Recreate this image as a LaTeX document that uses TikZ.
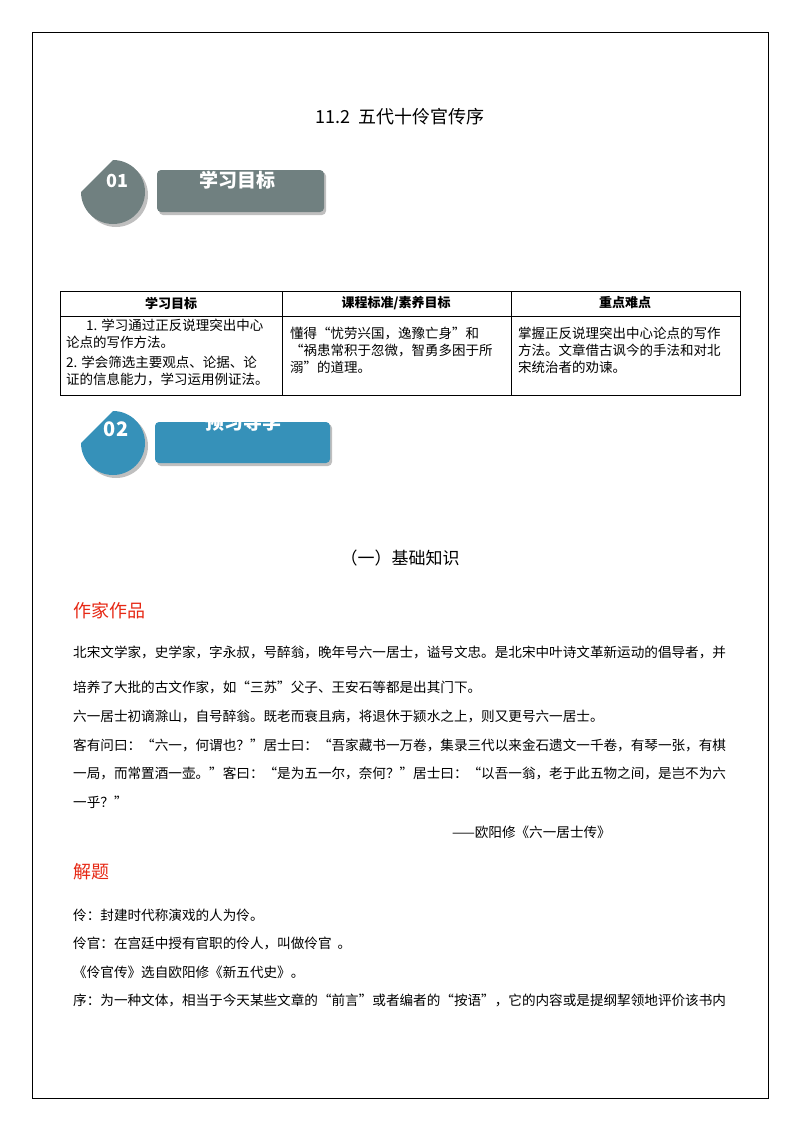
\documentclass[tikz,border=0pt]{standalone}
\usepackage{fontspec}
\setmainfont{Noto Sans CJK SC}
\begin{document}
\begin{tikzpicture}[x=1pt,y=-1pt,
  body/.style={anchor=west,inner sep=0pt,font=\fontsize{13.6}{15}\selectfont},
  cell/.style={anchor=north west,inner sep=0pt,align=left,font=\fontsize{13.5}{17}\selectfont},
  head/.style={inner sep=0pt,font=\fontsize{13}{14}\selectfont\bfseries},
  red/.style={anchor=west,inner sep=0pt,text={rgb,255:red,230;green,40;blue,20},font=\fontsize{18}{20}\selectfont}]
\useasboundingbox (0,0) rectangle (800,1132);
\draw[line width=0.8pt] (32,32) rectangle (768,1098);
\node[inner sep=0pt,font=\fontsize{18}{20}\selectfont] (title) at (400,117) {11.2\ \ 五代十伶官传序};
\definecolor{gr}{RGB}{112,128,128}
\definecolor{bl}{RGB}{54,145,185}
% badge 01
\fill[gray!50] (116,163) arc[start angle=-90,end angle=180,radius=32] -- cycle;
\fill[gr] (113,160) arc[start angle=-90,end angle=180,radius=32] -- cycle;
\node[text=white,font=\fontsize{18}{20}\selectfont\bfseries] (n1) at (117,181) {01};
\fill[gray!50,rounded corners=4] (159,172) rectangle (326,215);
\fill[gr,rounded corners=4] (157,170) rectangle (324,212);
\node[text=white,font=\fontsize{19}{20}\selectfont\bfseries] (b1) at (237,180) {学习目标};
% table
\draw[line width=0.6pt] (60,291) rectangle (740,395);
\draw[line width=0.6pt] (60,316) -- (740,316);
\draw[line width=0.6pt] (282,291) -- (282,395);
\draw[line width=0.6pt] (511,291) -- (511,395);
\node[head] (h1) at (171,303) {学习目标};
\node[head] (h2) at (396,303) {课程标准/素养目标};
\node[head] (h3) at (625,303) {重点难点};
\node[cell] (c1) at (66,319) {\hspace*{20pt}1. 学习通过正反说理突出中心\\论点的写作方法。};
\node[cell] (c1b) at (66,356) {2. 学会筛选主要观点、论据、论\\证的信息能力，学习运用例证法。};
\node[cell] (c2) at (290,327) {懂得“忧劳兴国，逸豫亡身”和\\“祸患常积于忽微，智勇多困于所\\溺”的道理。};
\node[cell] (c3) at (518,327) {掌握正反说理突出中心论点的写作\\方法。文章借古讽今的手法和对北\\宋统治者的劝谏。};
% badge 02
\fill[gray!50] (116,414) arc[start angle=-90,end angle=180,radius=32] -- cycle;
\fill[bl] (113,411) arc[start angle=-90,end angle=180,radius=32] -- cycle;
\node[text=white,font=\fontsize{20}{20}\selectfont\bfseries] (n2) at (116,429) {02};
\fill[gray!50,rounded corners=4] (157,424) rectangle (332,466);
\fill[bl,rounded corners=4] (155,422) rectangle (330,463);
\begin{scope}
\clip (155,422) rectangle (330,463);
\node[text=white,font=\fontsize{19}{20}\selectfont\bfseries] (b2) at (243,422) {预习导学};
\end{scope}
% section
\node[inner sep=0pt,font=\fontsize{17}{20}\selectfont] (sec) at (400,558) {（一）基础知识};
\node[red] (zj) at (73,611) {作家作品};
\node[body] (l1) at (73,652) {北宋文学家，史学家，字永叔，号醉翁，晚年号六一居士，谥号文忠。是北宋中叶诗文革新运动的倡导者，并};
\node[body] (l2) at (73,687) {培养了大批的古文作家，如“三苏”父子、王安石等都是出其门下。};
\node[body] (l3) at (73,716) {六一居士初谪滁山，自号醉翁。既老而衰且病，将退休于颍水之上，则又更号六一居士。};
\node[body] (l4) at (73,745) {客有问曰：“六一，何谓也？”居士曰：“吾家藏书一万卷，集录三代以来金石遗文一千卷，有琴一张，有棋};
\node[body] (l5) at (73,773) {一局，而常置酒一壶。”客曰：“是为五一尔，奈何？”居士曰：“以吾一翁，老于此五物之间，是岂不为六};
\node[body] (l6) at (73,802) {一乎？”};
\node[body,anchor=east] (l7) at (611,832) {——欧阳修《六一居士传》};
\node[red] (jt) at (73,872) {解题};
\node[body] (m1) at (73,915) {伶：封建时代称演戏的人为伶。};
\node[body] (m2) at (73,943) {伶官：在宫廷中授有官职的伶人，叫做伶官\ \ 。};
\node[body] (m3) at (73,972) {《伶官传》选自欧阳修《新五代史》。};
\node[body] (m4) at (73,1000) {序：为一种文体，相当于今天某些文章的“前言”或者编者的“按语”，它的内容或是提纲挈领地评价该书内};
\end{tikzpicture}
\end{document}
